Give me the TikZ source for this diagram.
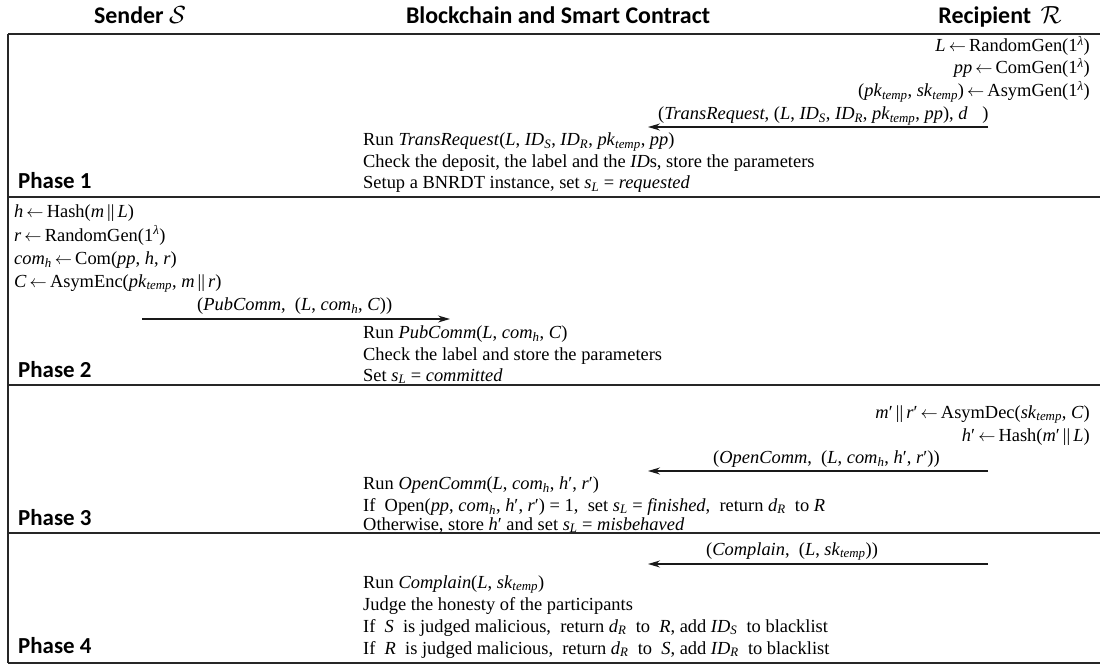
\documentclass[tikz,border=0pt]{standalone}
\usepackage{fontspec}
\setmainfont{Liberation Serif}
\newfontfamily\hdrfont{Carlito}
\usetikzlibrary{arrows.meta}
\newcommand\vi[1]{\textit{#1}}
\newcommand\sbi[1]{\textsubscript{\textit{#1}}}
\newcommand\lam{1\textsuperscript{\textit{λ}}}
\newcommand\pkt{\vi{pk}\sbi{temp}}
\newcommand\skt{\vi{sk}\sbi{temp}}
\newcommand\ld{\,||\,}
\newcommand\lar{\,$\leftarrow$\,}
\begin{document}
\begin{tikzpicture}[x=1bp,y=-1bp,
  body/.style={inner sep=0pt,font=\fontsize{18.5}{22}\selectfont},
  lt/.style={body,anchor=base west},
  rt/.style={body,anchor=base east},
  hdr/.style={inner sep=0pt,anchor=base,font=\hdrfont\bfseries\fontsize{24}{27}\selectfont},
  phase/.style={inner sep=0pt,anchor=base west,font=\hdrfont\bfseries\fontsize{23}{27}\selectfont},
  rulel/.style={line width=1.7pt,draw=black!85},
  msg/.style={line width=1.5pt,draw=black!90,-{Stealth[length=12pt,width=7pt]}}]
\useasboundingbox (0,0) rectangle (1100,665);
% header
\node[hdr] (hS) at (140,24) {Sender $\mathcal{S}$};
\node[hdr] (hB) at (558,24) {Blockchain and Smart Contract};
\node[hdr] (hR) at (1000,24) {Recipient \,$\mathcal{R}$};
% rules
\draw[rulel] (8,34) -- (1100,34);
\draw[rulel] (8,197) -- (1100,197);
\draw[rulel] (8,385) -- (1100,385);
\draw[rulel] (8,533) -- (1100,533);
\draw[rulel] (8,663) -- (1100,663);
\draw[rulel] (8,34) -- (8,663);
% Phase 1
\node[rt] (p1a) at (1090,52) {\vi{L}\lar RandomGen(\lam)};
\node[rt] (p1b) at (1090,74) {\vi{pp}\lar ComGen(\lam)};
\node[rt] (p1c) at (1090,97) {(\pkt, \skt)\lar AsymGen(\lam)};
\node[lt] (m1) at (658,120) {(\vi{TransRequest}, (\vi{L}, \vi{ID}\sbi{S}, \vi{ID}\sbi{R}, \pkt, \vi{pp}), \vi{d}\hspace{0.8em})};
\coordinate (m1s) at (988,127);
\coordinate (m1e) at (648,127);
\draw[msg] (m1s) -- (m1e);
\node[lt] (b1a) at (363,146) {Run \vi{TransRequest}(\vi{L}, \vi{ID}\sbi{S}, \vi{ID}\sbi{R}, \pkt, \vi{pp})};
\node[lt] (b1b) at (363,168) {Check the deposit, the label and the \vi{ID}s, store the parameters};
\node[lt] (b1c) at (363,189) {Setup a BNRDT instance, set \vi{s}\sbi{L} = \vi{requested}};
\node[phase] (ph1) at (18,189) {Phase 1};
% Phase 2
\node[lt] (s2a) at (14,218) {\vi{h}\lar Hash(\vi{m}\ld\vi{L})};
\node[lt] (s2b) at (14,241) {\vi{r}\lar RandomGen(\lam)};
\node[lt] (s2c) at (14,264) {\vi{com}\sbi{h}\lar Com(\vi{pp}, \vi{h}, \vi{r})};
\node[lt] (s2d) at (14,287) {\vi{C}\lar AsymEnc(\pkt, \vi{m}\ld\vi{r})};
\node[lt] (m2) at (197,310) {(\vi{PubComm}, \ (\vi{L}, \vi{com}\sbi{h}, \vi{C}))};
\coordinate (m2s) at (142,319);
\coordinate (m2e) at (450,319);
\draw[msg] (m2s) -- (m2e);
\node[lt] (b2a) at (363,338) {Run \vi{PubComm}(\vi{L}, \vi{com}\sbi{h}, \vi{C})};
\node[lt] (b2b) at (363,360) {Check the label and store the parameters};
\node[lt] (b2c) at (363,381) {Set \vi{s}\sbi{L} = \vi{committed}};
\node[phase] (ph2) at (18,377) {Phase 2};
% Phase 3
\node[rt] (r3a) at (1090,418) {\vi{m}′\ld\vi{r}′\lar AsymDec(\skt, \vi{C})};
\node[rt] (r3b) at (1090,441) {\vi{h}′\lar Hash(\vi{m}′\ld\vi{L})};
\node[lt] (m3) at (713,463) {(\vi{OpenComm}, \ (\vi{L}, \vi{com}\sbi{h}, \vi{h}′, \vi{r}′))};
\coordinate (m3s) at (988,471);
\coordinate (m3e) at (648,471);
\draw[msg] (m3s) -- (m3e);
\node[lt] (b3a) at (363,489) {Run \vi{OpenComm}(\vi{L}, \vi{com}\sbi{h}, \vi{h}′, \vi{r}′)};
\node[lt] (b3b) at (363,511) {If \ Open(\vi{pp}, \vi{com}\sbi{h}, \vi{h}′, \vi{r}′) = 1, \ set \vi{s}\sbi{L} = \vi{finished}, \ return \vi{d}\sbi{R} \ to \vi{R}};
\node[lt] (b3c) at (363,530) {Otherwise, store \vi{h}′ and set \vi{s}\sbi{L} = \vi{misbehaved}};
\node[phase] (ph3) at (18,525) {Phase 3};
% Phase 4
\node[lt] (m4) at (706,555) {(\vi{Complain}, \ (\vi{L}, \skt))};
\coordinate (m4s) at (988,564);
\coordinate (m4e) at (648,564);
\draw[msg] (m4s) -- (m4e);
\node[lt] (b4a) at (363,588) {Run \vi{Complain}(\vi{L}, \skt)};
\node[lt] (b4b) at (363,610) {Judge the honesty of the participants};
\node[lt] (b4c) at (363,632) {If \ \vi{S} \ is judged malicious, \ return \vi{d}\sbi{R} \ to \ \vi{R}, add \vi{ID}\sbi{S} \ to blacklist};
\node[lt] (b4d) at (363,654) {If \ \vi{R} \ is judged malicious, \ return \vi{d}\sbi{R} \ to \ \vi{S}, add \vi{ID}\sbi{R} \ to blacklist};
\node[phase] (ph4) at (18,653) {Phase 4};
\end{tikzpicture}
\end{document}
